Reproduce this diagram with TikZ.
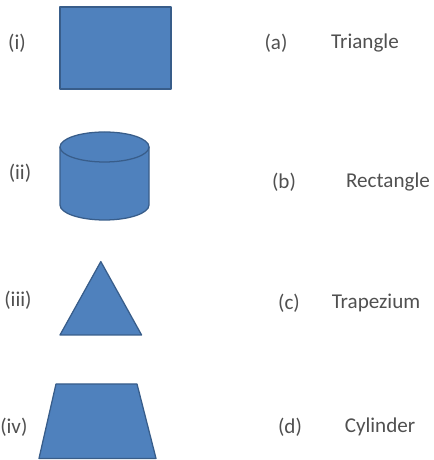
\documentclass[tikz,border=0pt]{standalone}
\usepackage{fontspec}
\setmainfont{Carlito}
\usepackage{xcolor}
\definecolor{shapeblue}{RGB}{79,129,189}
\definecolor{shapeedge}{RGB}{56,93,138}
\definecolor{labelgray}{RGB}{80,80,80}
\usepackage{tikz}
\usetikzlibrary{positioning}
\tikzset{
  solid shape/.style={fill=shapeblue, draw=shapeedge, line width=0.9pt, line join=round},
  tag/.style={font=\fontsize{15}{18}\selectfont, text=labelgray, inner sep=0pt},
}

\begin{document}
\begin{tikzpicture}
  \useasboundingbox (0,0) rectangle (10.825,11.5);

  % (i) rectangle
  \node[tag] (lbl-i) at (0.425, 10.425) {(i)};
  \draw[solid shape] (1.5, 9.275) rectangle (4.275, 11.325);

  % (ii) cylinder
  \node[tag] (lbl-ii) at (0.5, 7.175) {(ii)};
  \draw[solid shape] (1.5, 7.825) -- (1.5, 6.375)
    arc[start angle=180, end angle=360, x radius=1.1125, y radius=0.375]
    -- (3.725, 7.825);
  \draw[solid shape] (2.6125, 7.825) ellipse[x radius=1.1125, y radius=0.375];

  % (iii) triangle
  \node[tag] (lbl-iii) at (0.45, 4.0) {(iii)};
  \draw[solid shape] (1.5, 3.125) -- (2.52, 4.96) -- (3.54, 3.125) -- cycle;

  % (iv) trapezium
  \node[tag, anchor=west] (lbl-iv) at (0, 0.825) {(iv)};
  \draw[solid shape] (0.975, 0.04) -- (1.4, 1.9) -- (3.425, 1.9) -- (3.9, 0.04) -- cycle;

  % names to match
  \node[tag] (opt-a) at (6.9, 10.425) {(a)};
  \node[tag] (name-a) at (9.125, 10.425) {Triangle};
  \node[tag] (opt-b) at (7.1, 6.95) {(b)};
  \node[tag] (name-b) at (9.7, 6.95) {Rectangle};
  \node[tag] (opt-c) at (7.225, 3.925) {(c)};
  \node[tag] (name-c) at (9.4, 3.925) {Trapezium};
  \node[tag] (opt-d) at (7.25, 0.825) {(d)};
  \node[tag] (name-d) at (9.5, 0.825) {Cylinder};
\end{tikzpicture}
\end{document}
